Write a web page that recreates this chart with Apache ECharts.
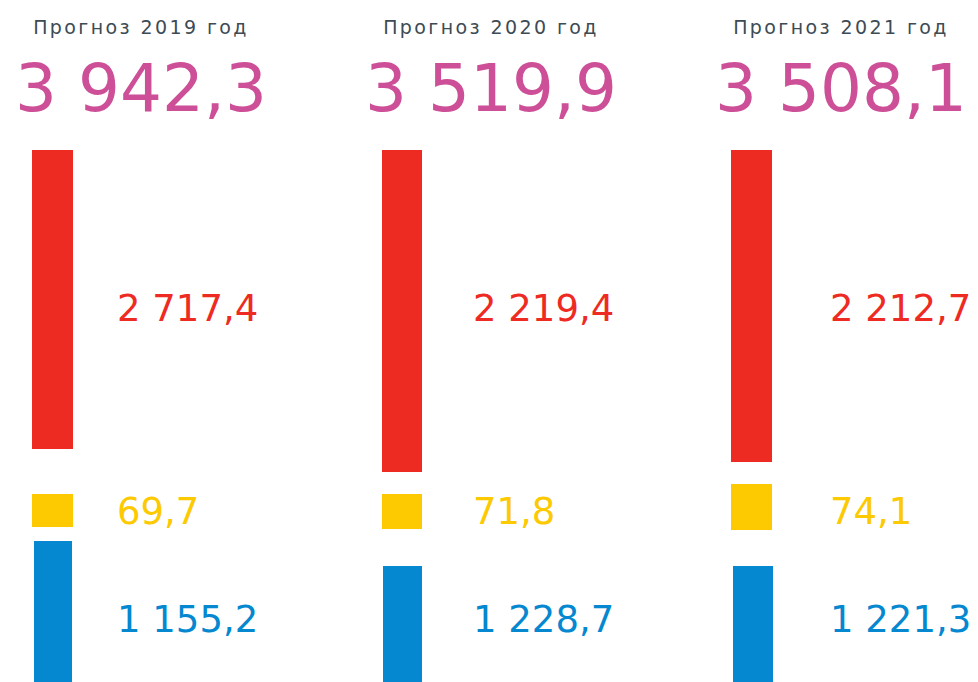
<!DOCTYPE html>
<html>
<head>
<meta charset="utf-8">
<script src="https://cdn.jsdelivr.net/npm/echarts@6/dist/echarts.min.js"></script>
<style>
  html, body { margin: 0; background: #fff; }
  #chart { width: 978px; height: 682px; }
  /* the year captions are set with wide tracking */
  #chart text[style*="19px"] { letter-spacing: 2.4px; }
</style>
</head>
<body>
<div id="chart"></div>
<script>
const years = ['2019', '2020', '2021']
const totals = [3942.3, 3519.9, 3508.1]
const redValues = [2717.4, 2219.4, 2212.7]
const yellowValues = [69.7, 71.8, 74.1]
const blueValues = [1155.2, 1228.7, 1221.3]

// russian style: "2 717,4"
function fmt(v) {
  const parts = v.toFixed(1).split('.')
  return parts[0].replace(/\B(?=(\d{3})+(?!\d))/g, ' ') + ',' + parts[1]
}

const FONT = '"DejaVu Sans", Verdana, sans-serif'
const colors = { red: '#ee2b23', yellow: '#fdc900', blue: '#0588d0' }

// layout of each column (px)
const cols = [
  { cx: 141, labelX: 117, red: [32, 41, 150, 449], yellow: [32, 41, 494, 527], blue: [34, 38, 541, 760] },
  { cx: 491, labelX: 473, red: [382, 40, 150, 472], yellow: [382, 40, 494, 529], blue: [383, 39, 566, 760] },
  { cx: 841, labelX: 830, red: [731, 41, 150, 462], yellow: [731, 41, 484, 530], blue: [733, 40, 566, 760] }
]
const labelY = { red: 308, yellow: 511, blue: 619 }

const grid = []
const xAxis = []
const yAxis = []
const series = []
const title = []

years.forEach((year, i) => {
  const c = cols[i]
  title.push({
    text: 'Прогноз ' + year + ' год',
    left: c.cx, top: 17, textAlign: 'center', padding: 0,
    textStyle: { fontFamily: FONT, fontSize: 19, fontWeight: 'normal', color: '#3d4b55' }
  })
  title.push({
    text: fmt(totals[i]),
    left: c.cx, top: 55, textAlign: 'center', padding: 0,
    textStyle: { fontFamily: FONT, fontSize: 66, fontWeight: 'normal', color: '#cc4f97' }
  })

  const segs = [
    ['red', redValues[i]],
    ['yellow', yellowValues[i]],
    ['blue', blueValues[i]]
  ]
  segs.forEach(([key, value]) => {
    const [x, w, top, bottom] = c[key]
    const idx = grid.length
    grid.push({ left: x, width: w, top: top, height: bottom - top })
    xAxis.push({ type: 'category', gridIndex: idx, data: [year], show: false })
    yAxis.push({ type: 'value', gridIndex: idx, inverse: true, min: 0, max: value, show: false })
    series.push({
      type: 'bar',
      xAxisIndex: idx,
      yAxisIndex: idx,
      data: [value],
      barWidth: '100%',
      itemStyle: { color: colors[key] },
      label: {
        show: true,
        position: [c.labelX - x, labelY[key] - top],
        verticalAlign: 'middle',
        align: 'left',
        formatter: (p) => fmt(p.value),
        fontFamily: FONT,
        fontSize: 37,
        color: colors[key]
      }
    })
  })
})

const chart = echarts.init(document.getElementById('chart'), null, { renderer: 'svg' })
chart.setOption({
  backgroundColor: '#fff',
  animation: false,
  title: title,
  grid: grid,
  xAxis: xAxis,
  yAxis: yAxis,
  series: series
})
</script>
</body>
</html>
